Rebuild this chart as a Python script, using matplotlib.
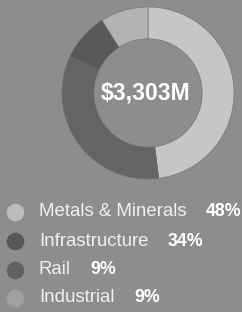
import matplotlib.pyplot as plt

# Data
segments = ["Metals & Minerals", "Infrastructure", "Rail", "Industrial"]
shares = [48, 34, 9, 9]
total_label = "$3,303M"

seg_colors = ["#c6c6c6", "#646464", "#595959", "#b3b3b3"]
dot_colors = ["#bcbcbc", "#575757", "#626262", "#a0a0a0"]
BG = "#8d8d8d"

W, H = 242, 312
fig = plt.figure(figsize=(W / 100, H / 100), dpi=100, facecolor=BG)
ax = fig.add_axes([0, 0, 1, 1])
ax.set_facecolor(BG)

# donut (pixel coords, y measured from bottom)
cx, cy, r = 148, H - 93, 86
ax.pie(shares, colors=seg_colors, startangle=90, counterclock=False,
       center=(cx, cy), radius=r,
       wedgeprops=dict(width=r * 0.37, edgecolor="#6a6a6a", linewidth=0.4))
ax.text(cx - 2, cy, total_label, ha="center", va="center", color="white",
        fontsize=16.5, fontweight="bold", family="Liberation Sans")

ax.set_xlim(0, W)
ax.set_ylim(0, H)
ax.set_aspect("auto")
ax.axis("off")

# legend
row_y = [212, 241, 270, 298]
for name, pct, dc, yy in zip(segments, shares, dot_colors, row_y):
    y = H - yy
    ax.scatter([15], [y], s=160, color=dc, linewidths=0, zorder=3)
    t = ax.text(39, y, name, ha="left", va="center", color="#f0f0f0",
                fontsize=13.4, family="Liberation Sans")
    ax.annotate(f"{pct}%", xy=(1, 0.5), xycoords=t, xytext=(14, 0),
                textcoords="offset points", ha="left", va="center",
                color="white", fontsize=12.8, fontweight="bold",
                family="Liberation Sans")

fig.savefig("out.png", dpi=100, facecolor=BG)
